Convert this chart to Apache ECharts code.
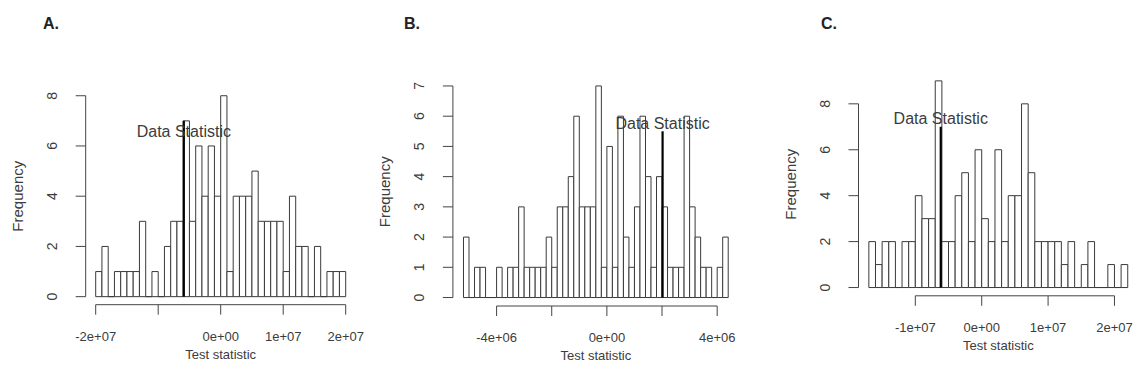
<!DOCTYPE html>
<html>
<head>
<meta charset="utf-8">
<script src="https://cdn.jsdelivr.net/npm/echarts@6/dist/echarts.min.js"></script>
<style>html,body{margin:0;padding:0;background:#fff;}#chart{width:1142px;height:391px;}</style>
</head>
<body>
<div id="chart"></div>
<script>
// ---------------- data ----------------
// Panel A: histogram bins start at binStartA, width binWidthA
const binStartA = -2e7;
const binWidthA = 1e6;
const countsA = [1,2,0,1,1,1,1,3,0,1, 0,2,3,3,7,3,6,4,6,4, 8,1,4,4,4,5,3,3,3,3, 1,4,2,2,0,2,0,1,1,1];
const statA = -5.9e6;          // data statistic (x)
const statLineTopA = 7;        // height of the statistic line
const statTextYA = 6.57;       // y of the "Data Statistic" label
const xTicksA = [-2e7, -1e7, 0, 1e7, 2e7];
const xTickLabelsA = ['-2e+07', '', '0e+00', '1e+07', '2e+07'];
const yTicksA = [0, 2, 4, 6, 8];

// Panel B
const binStartB = -5.2e6;
const binWidthB = 2e5;
const countsB = [2,0,1,1,0,0,1,0,1,1, 3,1,1,1,1,2,1,3,3,4, 6,3,3,3,7,1,5,1,6,2, 1,3,6,4,1,4,3,1,1,1, 6,3,2,1,1,0,1,2];
const statB = 2.02e6;
const statLineTopB = 5.5;
const statTextYB = 5.77;
const xTicksB = [-4e6, -2e6, 0, 2e6, 4e6];
const xTickLabelsB = ['-4e+06', '', '0e+00', '', '4e+06'];
const yTicksB = [0, 1, 2, 3, 4, 5, 6, 7];

// Panel C
const binStartC = -1.7e7;
const binWidthC = 1e6;
const countsC = [2,1,2,2,0,2,2,4,3,3, 9,2,2,4,5,2,6,3,2,6, 2,4,4,8,5,2,2,2,2,1, 2,0,1,2,0,0,1,0,1];
const statC = -6.17e6;
const statLineTopC = 7;
const statTextYC = 7.35;
const xTicksC = [-1e7, 0, 1e7, 2e7];
const xTickLabelsC = ['-1e+07', '0e+00', '1e+07', '2e+07'];
const yTicksC = [0, 2, 4, 6, 8];

const panelTitles = ['A.', 'B.', 'C.'];
const xAxisTitle = 'Test statistic';
const yAxisTitle = 'Frequency';
const statLabel = 'Data Statistic';

// ---------------- styling / layout ----------------
const FONT = '"Liberation Sans", Arial, sans-serif';
const TEXT = '#3c3c3c';
const AXIS = '#444';
const BAR = '#3a3a3a';
const TICK_LEN = 10;

const grids = [
  {left: 85.7, top: 87.7, width: 270, height: 217},
  {left: 452.9, top: 77.5, width: 285.9, height: 228.5},
  {left: 858.5, top: 72.6, width: 279.6, height: 223.2}
];
const titlePos = [{left: 38, top: 10}, {left: 399, top: 10}, {left: 816, top: 10}];

const panels = [
  {start: binStartA, width: binWidthA, counts: countsA, stat: statA, lineTop: statLineTopA, textY: statTextYA, xTicks: xTicksA, xLabels: xTickLabelsA, yTicks: yTicksA},
  {start: binStartB, width: binWidthB, counts: countsB, stat: statB, lineTop: statLineTopB, textY: statTextYB, xTicks: xTicksB, xLabels: xTickLabelsB, yTicks: yTicksB},
  {start: binStartC, width: binWidthC, counts: countsC, stat: statC, lineTop: statLineTopC, textY: statTextYC, xTicks: xTicksC, xLabels: xTickLabelsC, yTicks: yTicksC}
];

// R-style plot region: 4% padding beyond data range
function usr(p) {
  const x0 = p.start, x1 = p.start + p.width * p.counts.length;
  const y0 = 0, y1 = Math.max.apply(null, p.counts);
  const dx = (x1 - x0) * 0.04, dy = (y1 - y0) * 0.04;
  return {x0: x0 - dx, x1: x1 + dx, y0: y0 - dy, y1: y1 + dy};
}

const xAxes = [], yAxes = [], series = [];
panels.forEach((p, i) => {
  const u = usr(p);
  const labelMap = {};
  p.xTicks.forEach((v, k) => { labelMap[String(v)] = p.xLabels[k]; });
  const labelVals = p.xTicks.filter((v, k) => p.xLabels[k] !== '');
  xAxes.push({
    gridIndex: i, type: 'value', min: u.x0, max: u.x1, position: 'bottom',
    axisLine: {show: false, onZero: false}, splitLine: {show: false},
    axisTick: {show: false},
    axisLabel: {customValues: labelVals, formatter: v => labelMap[String(v)] || '', margin: 25,
      fontSize: 13, color: TEXT, fontFamily: FONT},
    name: xAxisTitle, nameLocation: 'middle', nameGap: 41,
    nameTextStyle: {fontSize: 13, color: TEXT, fontFamily: FONT}
  });
  yAxes.push({
    gridIndex: i, type: 'value', min: u.y0, max: u.y1, position: 'left',
    axisLine: {show: false, onZero: false}, splitLine: {show: false},
    axisTick: {show: false},
    axisLabel: {customValues: p.yTicks, formatter: v => String(v), rotate: 90, margin: 27,
      fontSize: 14, color: TEXT, fontFamily: FONT},
    name: yAxisTitle, nameLocation: 'middle', nameGap: 61,
    nameTextStyle: {fontSize: 15, color: TEXT, fontFamily: FONT}
  });

  // histogram bars
  series.push({
    type: 'custom', xAxisIndex: i, yAxisIndex: i, clip: false, silent: true,
    data: p.counts.map((c, k) => [p.start + k * p.width, c, p.start + (k + 1) * p.width]),
    renderItem: (params, api) => {
      const a = api.coord([api.value(0), 0]);
      const b = api.coord([api.value(2), api.value(1)]);
      return {type: 'rect', shape: {x: a[0], y: b[1], width: b[0] - a[0], height: a[1] - b[1]},
        style: {fill: '#fff', stroke: BAR, lineWidth: 1}};
    }
  });

  // x axis (R style): ticks + line from first to last tick at the plot-region bottom
  series.push({
    type: 'custom', xAxisIndex: i, yAxisIndex: i, clip: false, silent: true,
    data: p.xTicks.map(v => [v, 0]),
    renderItem: (params, api) => {
      const cs = params.coordSys;
      const bottom = cs.y + cs.height;
      const x = api.coord([api.value(0), 0])[0];
      const children = [{type: 'line', shape: {x1: x, y1: bottom, x2: x, y2: bottom + TICK_LEN}, style: {stroke: AXIS, lineWidth: 1}}];
      if (params.dataIndex === 0) {
        const xb = api.coord([p.xTicks[p.xTicks.length - 1], 0])[0];
        children.push({type: 'line', shape: {x1: x, y1: bottom, x2: xb, y2: bottom}, style: {stroke: AXIS, lineWidth: 1}});
      }
      return {type: 'group', children: children};
    }
  });

  // y axis (R style)
  series.push({
    type: 'custom', xAxisIndex: i, yAxisIndex: i, clip: false, silent: true,
    data: p.yTicks.map(v => [0, v]),
    renderItem: (params, api) => {
      const cs = params.coordSys;
      const left = cs.x;
      const y = api.coord([0, api.value(1)])[1];
      const children = [{type: 'line', shape: {x1: left - TICK_LEN, y1: y, x2: left, y2: y}, style: {stroke: AXIS, lineWidth: 1}}];
      if (params.dataIndex === 0) {
        const yb = api.coord([0, p.yTicks[p.yTicks.length - 1]])[1];
        children.push({type: 'line', shape: {x1: left, y1: y, x2: left, y2: yb}, style: {stroke: AXIS, lineWidth: 1}});
      }
      return {type: 'group', children: children};
    }
  });

  // data statistic line + label
  series.push({
    type: 'custom', xAxisIndex: i, yAxisIndex: i, clip: false, silent: true, z: 5,
    data: [[p.stat, p.lineTop, p.textY]],
    renderItem: (params, api) => {
      const a = api.coord([api.value(0), 0]);
      const b = api.coord([api.value(0), api.value(1)]);
      const t = api.coord([api.value(0), api.value(2)]);
      return {type: 'group', children: [
        {type: 'line', shape: {x1: a[0], y1: a[1], x2: b[0], y2: b[1]}, style: {stroke: '#000', lineWidth: 2.2}},
        {type: 'text', x: t[0], y: t[1], style: {text: statLabel, fill: TEXT, font: '16px ' + FONT,
          align: 'center', verticalAlign: 'middle'}}
      ]};
    }
  });
});

const chart = echarts.init(document.getElementById('chart'), null, {renderer: 'svg'});
chart.setOption({
  animation: false,
  backgroundColor: '#fff',
  title: panelTitles.map((t, i) => ({text: t, left: titlePos[i].left, top: titlePos[i].top,
    textStyle: {fontSize: 16, fontWeight: 'bold', color: '#222', fontFamily: FONT}})),
  grid: grids.map(g => Object.assign({containLabel: false}, g)),
  xAxis: xAxes,
  yAxis: yAxes,
  series: series
});
</script>
</body>
</html>
